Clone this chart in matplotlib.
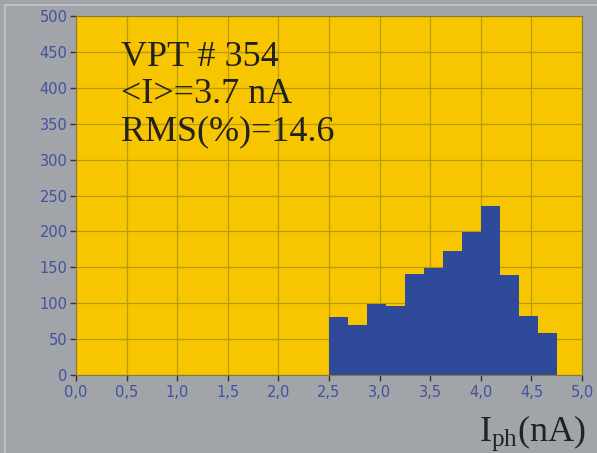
import matplotlib
matplotlib.use("Agg")
import matplotlib.pyplot as plt
from matplotlib.lines import Line2D
import numpy as np

plt.rcParams["mathtext.fontset"] = "custom"
plt.rcParams["mathtext.rm"] = "Liberation Serif"
plt.rcParams["mathtext.it"] = "Liberation Serif:italic"

bin_edges = [2.5, 2.6875, 2.875, 3.0625, 3.25, 3.4375, 3.625, 3.8125, 4.0, 4.1875, 4.375, 4.5625, 4.75]
counts = [81, 70, 99, 96, 140, 149, 173, 199, 235, 139, 82, 59]
x_ticks = [0.0, 0.5, 1.0, 1.5, 2.0, 2.5, 3.0, 3.5, 4.0, 4.5, 5.0]
x_tick_labels = ["0,0", "0,5", "1,0", "1,5", "2,0", "2,5", "3,0", "3,5", "4,0", "4,5", "5,0"]
y_ticks = [0, 50, 100, 150, 200, 250, 300, 350, 400, 450, 500]
info_lines = ["VPT # 354", "<I>=3.7 nA", "RMS(%)=14.6"]

W, H = 597, 453
fig = plt.figure(figsize=(W / 100, H / 100), dpi=100)
fig.patch.set_facecolor("#a1a4a8")
# light frame lines at top/left
fig.add_artist(Line2D([5 / W, 5 / W], [0, 1 - 5 / H], color="#c4c7ca", lw=1.2))
fig.add_artist(Line2D([5 / W, 1], [1 - 5 / H, 1 - 5 / H], color="#c4c7ca", lw=1.2))

ax = fig.add_axes([76 / W, 1 - 375 / H, (582 - 76) / W, (375 - 16) / H])
ax.set_facecolor("#f7c600")

widths = np.diff(bin_edges)
ax.bar(bin_edges[:-1], counts, width=widths, align="edge", color="#2f4a98", edgecolor="none", zorder=3)

ax.set_xlim(0, 5.0)
ax.set_ylim(0, 500)
ax.set_xticks(x_ticks)
ax.set_xticklabels(x_tick_labels)
ax.set_yticks(y_ticks)
ax.grid(True, color="#b89a10", linewidth=0.9, zorder=1)
ax.set_axisbelow(True)
for s in ax.spines.values():
    s.set_color("#8a7a30")
    s.set_linewidth(0.8)
ax.tick_params(axis="both", colors="#333333", labelcolor="#44519c", labelsize=10.5, length=4, width=1)
ax.tick_params(axis="x", pad=3)
ax.tick_params(axis="y", pad=2)

for i, line in enumerate(info_lines):
    fig.text(121 / W, 1 - (66 + i * 37) / H, line, fontsize=26, family="Liberation Serif",
             color="#222222", va="baseline", ha="left")

fig.text(586 / W, 1 - 441 / H, r"I$_{\mathrm{ph}}$(nA)", fontsize=26, family="Liberation Serif",
         color="#222222", ha="right", va="baseline")

fig.savefig("out.png", dpi=100, facecolor=fig.get_facecolor())
